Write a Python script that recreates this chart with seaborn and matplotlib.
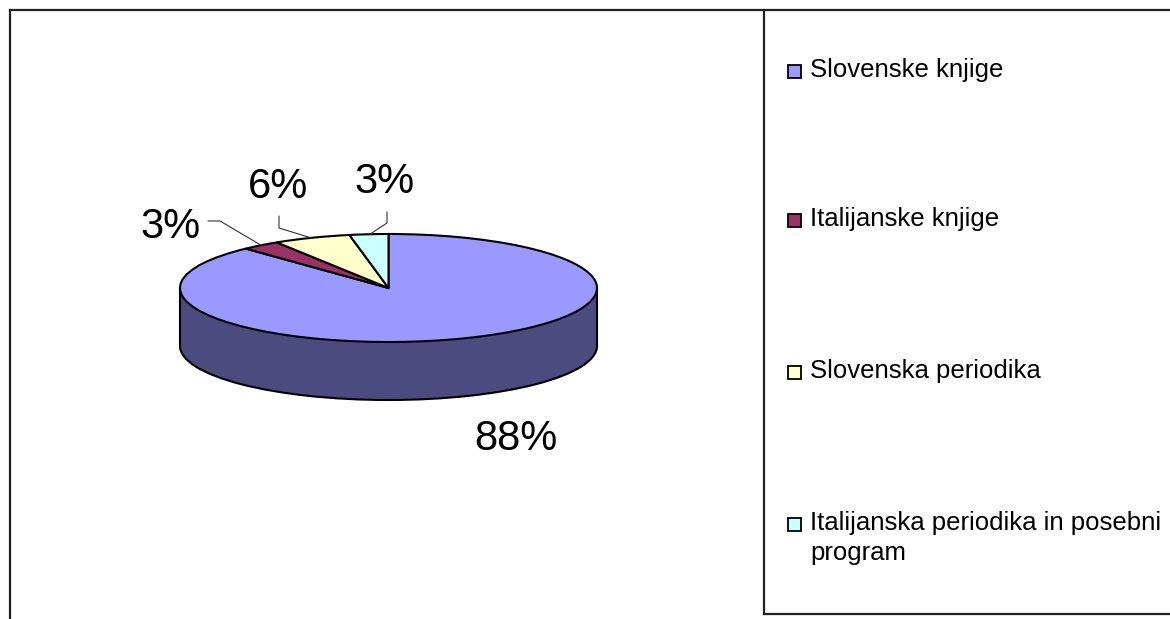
import numpy as np
import matplotlib
matplotlib.use("Agg")
import matplotlib.pyplot as plt
import seaborn as sns

# data
categories = ["Slovenske knjige", "Italijanske knjige", "Slovenska periodika",
              "Italijanska periodika in posebni\nprogram"]
shares = [88, 3, 6, 3]
colors = ["#9999FF", "#993366", "#FFFFCC", "#CCFFFF"]
side_color = "#4B4B7F"

sns.set_theme(style="white")
plt.rcParams["font.family"] = ["Liberation Sans", "DejaVu Sans"]

W, H = 1170, 619
fig = plt.figure(figsize=(W / 100, H / 100), dpi=100)
fig.patch.set_facecolor("white")

# background axes in pixel units (frame + legend)
bg = fig.add_axes([0, 0, 1, 1])
bg.set_xlim(0, W)
bg.set_ylim(H, 0)
bg.axis("off")

# pie geometry in pixels (centre, radii, depth of the 3d side)
cx, cy, rx, ry, depth = 388.5, 288, 208.5, 54, 58


def to_pie(x, y):
    return (x - cx) / rx, (cy - y) / ry


d = depth / ry
ax = fig.add_axes([0, 0, 1, 1])
wp = dict(edgecolor="black", linewidth=1.5)
# side: bottom disc + band (only the front, all blue, is visible), then the top
ax.pie([sum(shares)], colors=[side_color], center=(0, -d), wedgeprops=wp)
ax.fill_between([-1, 1], -d, 0, color=side_color, lw=0)
ax.vlines([-1, 1], -d, 0, color="black", lw=1.5)
ax.pie(shares, colors=colors, startangle=90, counterclock=False, wedgeprops=wp)
ax.set_xlim(-cx / rx, (W - cx) / rx)
ax.set_ylim((cy - H) / ry, cy / ry)
ax.set_aspect("auto")
ax.axis("off")

# percentage labels with leader lines
label_pos = [(516, 450), (171, 238), (278, 198), (385, 193)]   # baselines
elbows = [None, [(208, 221), (220, 221)], [(279, 216), (279, 228)],
          [(387, 212), (387, 223)]]
cum = np.cumsum(shares)
for i, s in enumerate(shares):
    mid = np.deg2rad(90 - 360 * (cum[i] - s / 2) / sum(shares))
    x, y = label_pos[i]
    ax.text(*to_pie(x, y), f"{s}%", ha="center", va="baseline", fontsize=30,
            color="black")
    if elbows[i] is not None:
        pts = [to_pie(*p) for p in elbows[i]] + [(0.99 * np.cos(mid), 0.99 * np.sin(mid))]
        pts = np.array(pts)
        ax.plot(pts[:, 0], pts[:, 1], color="#333333", lw=0.8)

# chart frame and legend box
frame = dict(color="#222222", lw=1.6, solid_capstyle="projecting")
bg.plot([10, 10], [10, H], **frame)
bg.plot([10, W], [10, 10], **frame)
bg.plot([764, 764], [10, 614], **frame)
bg.plot([764, W], [614, 614], **frame)

# legend entries
legend_y = [71, 220, 372, 524]
for cat, col, y in zip(categories, colors, legend_y):
    bg.add_patch(plt.Rectangle((788, y - 6.5), 13, 13, facecolor=col,
                               edgecolor="black", lw=1.3))
    for k, line in enumerate(cat.split("\n")):
        bg.text(810, y + 6 + 30 * k, line, fontsize=18.5, va="baseline",
                ha="left", color="black")

fig.savefig("out.png", dpi=100)
